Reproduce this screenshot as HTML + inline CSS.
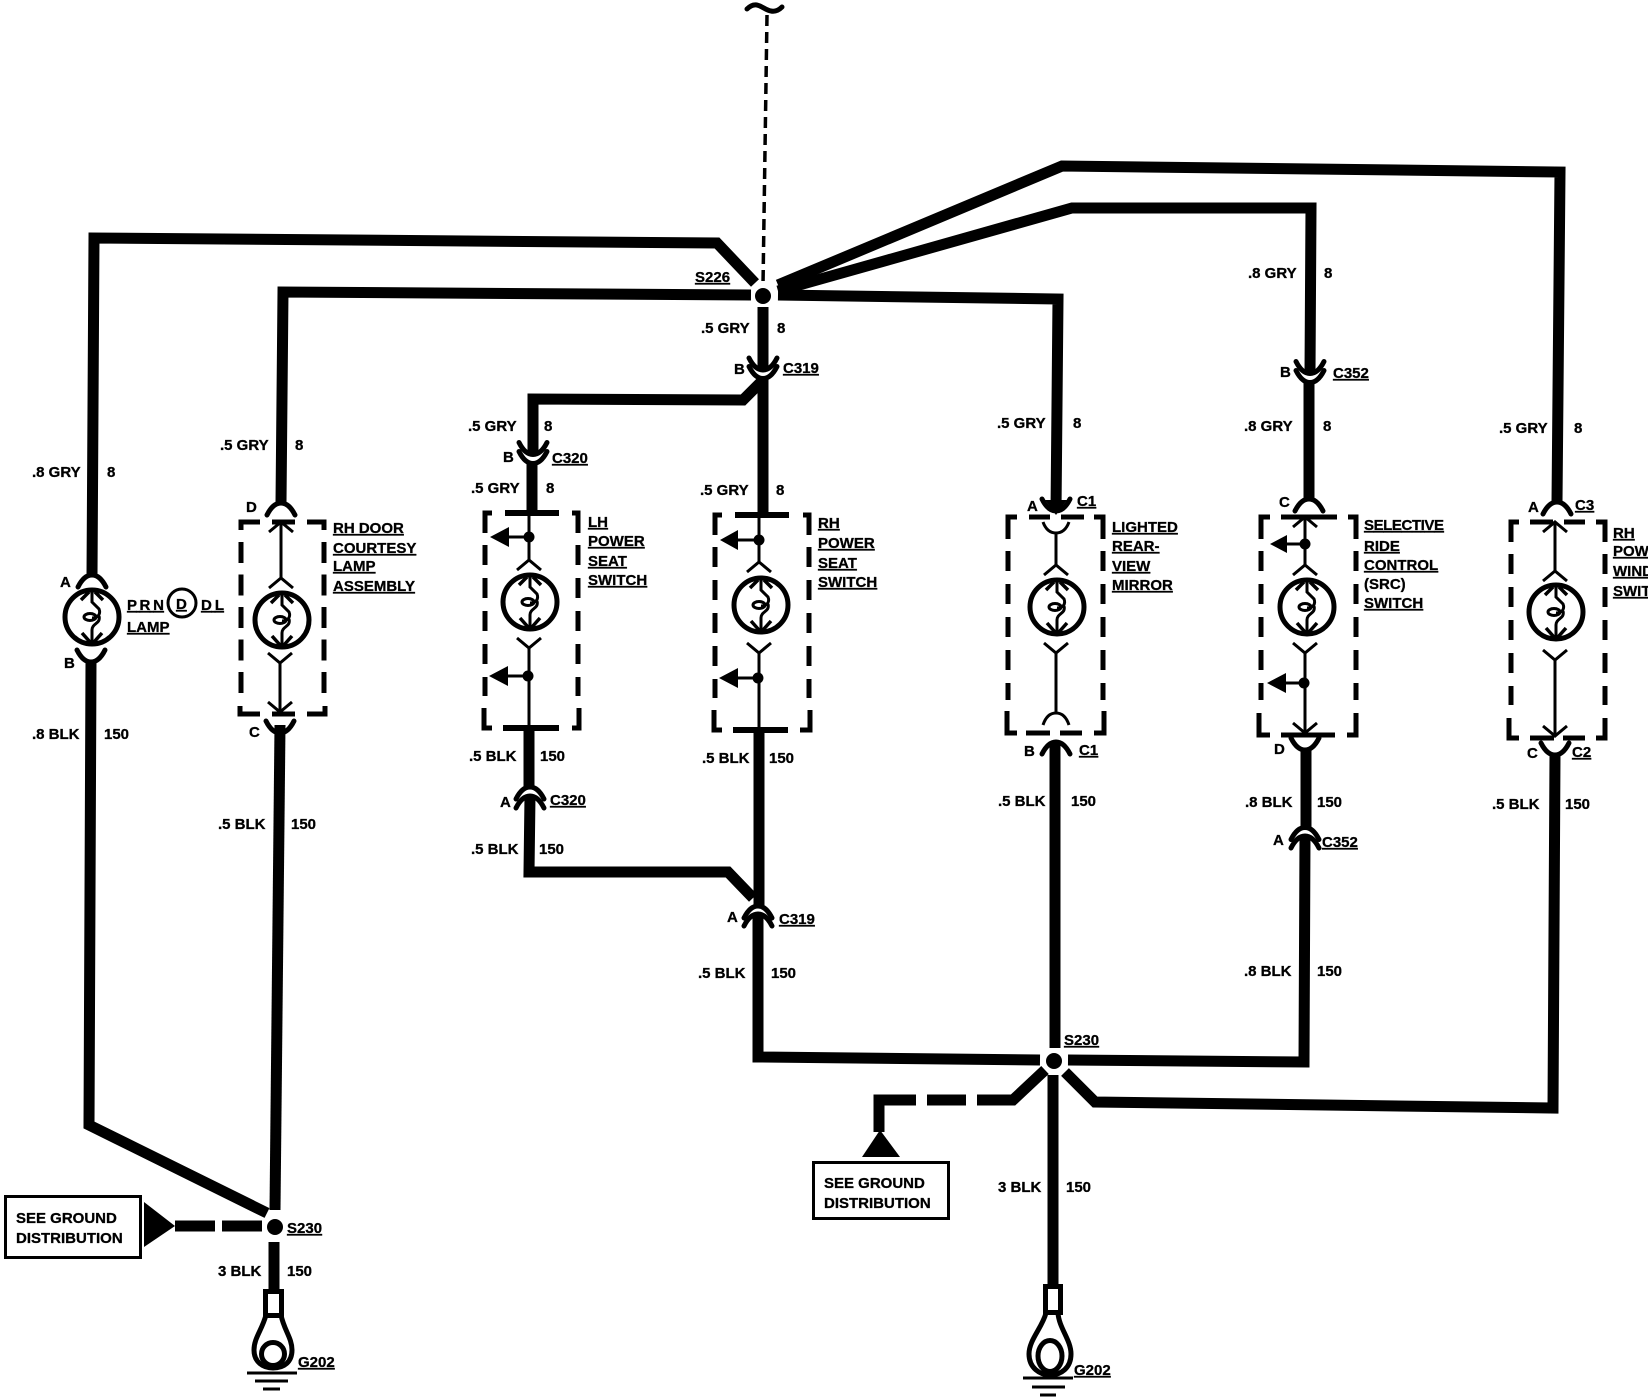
<!DOCTYPE html>
<html lang="en"><head><meta charset="utf-8"><title>Wiring diagram</title>
<style>
html,body{margin:0;padding:0;background:#fff;width:1648px;height:1398px;overflow:hidden}
svg{display:block}
text{font-family:"Liberation Sans",sans-serif;font-weight:700;font-size:15px;fill:#000;stroke:#000;stroke-width:.3}
.u{text-decoration:underline;text-underline-offset:3px}
.w{fill:none;stroke:#000;stroke-width:11;stroke-linejoin:miter}
.t{fill:none;stroke:#000;stroke-width:3;stroke-linejoin:miter}
.b{fill:none;stroke:#000;stroke-width:5}
.d{fill:none;stroke:#000;stroke-width:5;stroke-dasharray:20 13}
.e{fill:none;stroke:#000;stroke-width:5;stroke-dasharray:21 11.5}
.c{fill:none;stroke:#000;stroke-width:5;stroke-linecap:round}
</style></head><body>
<svg xmlns="http://www.w3.org/2000/svg" width="1648" height="1398" viewBox="0 0 1648 1398">
<defs>
<g id="lamp" fill="none" stroke="#000">
<circle r="27" stroke-width="5"/>
<path stroke-width="3" d="M0,-26V-15L7,-8C9,-3 6,1 0,1M-8,0a6,3.5 0 1 0 12,0a6,3.5 0 1 0 -12,0M7,-1C9,7 0,6 0,13V26"/>
<path stroke-width="3.5" d="M-11,-17L-3,-25M11,-17L3,-25M-10,16L-2,25M10,16L2,25"/>
</g>
<path id="U" class="c" d="M-14,-12Q-8,0 0,0Q8,0 14,-12"/>
<path id="N" class="c" d="M-14,12Q-8,0 0,0Q8,0 14,12"/>
<path id="up" class="t" d="M-12,10L0,0L12,10"/>
<path id="dn" class="t" d="M-12,-10L0,0L12,-10"/>
</defs>
<rect width="1648" height="1398" fill="#fff"/>

<!-- top feed -->
<path d="M747,9C757,-1 763,10 771,11C776,12 780,9 782,7" fill="none" stroke="#000" stroke-width="5" stroke-linecap="round"/>
<path d="M767,15L763,285" fill="none" stroke="#000" stroke-width="3.5" stroke-dasharray="11 6"/>

<!-- wires -->
<g class="w">
<path d="M755,283L717,243L94,238L92,576"/>
<path d="M751,295L283,292L281,503"/>
<path d="M778,295L1058,299L1056,511"/>
<path d="M778,285L1062,166L1560,172L1557,502"/>
<path d="M778,291L1072,208L1311,208L1310,373M1309,382V499"/>
<path d="M763,307V370M763,378V513"/>
<path d="M762,381L743,400L533,399V455M532,463V512"/>
<path d="M529,728V787M530,796L529,872H728L753,898"/>
<path d="M759,730V906M758,914L758,1057L1040,1060"/>
<path d="M1068,1060L1304,1062L1305,836M1306,750V827"/>
<path d="M1055,742V1048"/>
<path d="M1555,755L1553,1108L1095,1102L1065,1072"/>
<path d="M1053,1075V1285"/>
<path d="M91,662L89,1125L267,1213"/>
<path d="M280,725L275,1210"/>
<path d="M274,1242V1290"/>
<path d="M1045,1070L1013,1100H977M966,1100H927M916,1100H879V1132"/>
<path d="M175,1226H215M222,1226H262"/>
</g>

<!-- splices -->
<circle cx="763" cy="296" r="8"/>
<circle cx="1054" cy="1061" r="8"/>
<circle cx="275" cy="1227" r="8"/>

<!-- connectors -->
<use href="#U" x="763" y="370"/><use href="#U" x="763" y="378.5"/>
<use href="#U" x="533" y="454.5"/><use href="#U" x="533" y="463.5"/>
<use href="#U" x="1310" y="373.5"/><use href="#U" x="1310" y="382.5"/>
<use href="#N" x="530" y="787"/><use href="#N" x="530" y="796"/>
<use href="#N" x="758" y="906"/><use href="#N" x="758" y="914"/>
<use href="#N" x="1305" y="827.5"/><use href="#N" x="1305" y="836"/>

<!-- PRNDL lamp -->
<use href="#N" x="92" y="575"/>
<use href="#lamp" x="92" y="617"/>
<use href="#U" x="91" y="662"/>
<circle cx="182" cy="603" r="14" fill="none" stroke="#000" stroke-width="3"/>

<!-- RH door courtesy -->
<path class="b" d="M260,522H241V530M307,522H324V530M272,522H295"/>
<path class="b" d="M260,714H240V706M307,714H325V706M272,714H295"/>
<path class="e" d="M241,542V695M324,542V695"/>
<use href="#N" x="281" y="503"/>
<use href="#up" x="281" y="522"/>
<path class="t" d="M281,522V578"/>
<use href="#up" x="281" y="578"/>
<use href="#lamp" x="282" y="620"/>
<use href="#dn" x="280" y="663"/>
<path class="t" d="M280,663V712"/>
<use href="#dn" x="280" y="712"/>
<use href="#U" x="280" y="733"/>

<!-- LH power seat -->
<path class="b" d="M492,513H485V533M572,513H578V533"/>
<path class="b" d="M492,728H484V708M572,728H579V708"/>
<path class="d" d="M485,545V696M578,545V696"/>
<path d="M505,513H559M503,728H559" stroke="#000" stroke-width="6"/>
<path class="t" d="M529,515V560M529,648V728M529,537H509M528,676H508"/>
<circle cx="529" cy="537" r="5.5"/><circle cx="528" cy="676" r="5.5"/>
<path d="M490,537L509,527V547Z M489,676L508,666V686Z"/>
<use href="#up" x="529" y="560"/>
<use href="#lamp" x="530" y="602"/>
<use href="#dn" x="529" y="648"/>

<!-- RH power seat -->
<path class="b" d="M722,515H715V535M803,515H809V535"/>
<path class="b" d="M722,730H714V710M800,730H810V710"/>
<path class="d" d="M715,547V698M809,547V698"/>
<path d="M735,515H789M733,730H788" stroke="#000" stroke-width="6"/>
<path class="t" d="M759,515V562M759,653V730M759,540H737M758,678H737"/>
<circle cx="759" cy="540" r="5.5"/><circle cx="758" cy="678" r="5.5"/>
<path d="M720,540L738,530V550Z M719,678L738,668V688Z"/>
<use href="#up" x="759" y="562"/>
<use href="#lamp" x="761" y="605"/>
<use href="#dn" x="759" y="653"/>

<!-- Lighted mirror -->
<use href="#U" x="1056" y="511"/>
<path d="M1045,500L1056,515L1067,500Z"/>
<path class="b" d="M1017,517H1008V539M1094,517H1103V539M1029,517H1050M1061,517H1084"/>
<path class="b" d="M1017,733H1007V711M1094,733H1104V711M1026,733H1050M1060,733H1082"/>
<path class="d" d="M1008,551V700M1103,551V700"/>
<path d="M1043,522Q1047,533 1056,533Q1065,533 1069,522M1043,725Q1047,713 1056,713Q1065,713 1069,725" fill="none" stroke="#000" stroke-width="3"/>
<path class="t" d="M1056,533V565M1056,653V713"/>
<use href="#up" x="1056" y="565"/>
<use href="#lamp" x="1057" y="607"/>
<use href="#dn" x="1056" y="653"/>
<use href="#N" x="1056" y="742"/>

<!-- SRC -->
<use href="#N" x="1309" y="499"/>
<path class="b" d="M1270,517H1261V539M1348,517H1356V539M1281,517H1337"/>
<path class="b" d="M1270,735H1259V713M1347,735H1356V713M1281,735H1335"/>
<path class="d" d="M1261,551V700M1356,551V700"/>
<path class="t" d="M1305,517V565M1305,653V733M1305,544H1287M1304,683H1286"/>
<use href="#up" x="1305" y="517"/>
<circle cx="1305" cy="544" r="5.5"/><circle cx="1304" cy="683" r="5.5"/>
<path d="M1270,544L1287,535V553Z M1267,683L1286,673V693Z"/>
<use href="#up" x="1305" y="565"/>
<use href="#lamp" x="1307" y="607"/>
<use href="#dn" x="1305" y="653"/>
<use href="#dn" x="1305" y="733"/>
<use href="#U" x="1305" y="750"/>

<!-- RH power window -->
<use href="#N" x="1557" y="502"/>
<path class="b" d="M1519,522H1511V542M1596,522H1605V542M1530,522H1553M1564,522H1585"/>
<path class="b" d="M1519,738H1509V718M1596,738H1605V718M1530,738H1554M1563,738H1585"/>
<path class="d" d="M1511,554V705M1605,554V705"/>
<path class="t" d="M1555,522V571M1555,660V736"/>
<use href="#up" x="1555" y="522"/>
<use href="#up" x="1555" y="571"/>
<use href="#lamp" x="1556" y="612"/>
<use href="#dn" x="1555" y="660"/>
<use href="#dn" x="1555" y="736"/>
<use href="#U" x="1555" y="755"/>

<!-- ground distribution boxes -->
<path d="M144,1202L175,1226L144,1247Z"/>
<rect x="5.5" y="1196.5" width="135" height="61" fill="none" stroke="#000" stroke-width="3"/>
<path d="M880,1130L900,1157H862Z"/>
<rect x="813.5" y="1162.5" width="135" height="56" fill="none" stroke="#000" stroke-width="3"/>

<!-- ground lugs -->
<g fill="none" stroke="#000" stroke-width="5">
<rect x="265.5" y="1291.5" width="16" height="24"/>
<path d="M266,1315C262,1330 254,1338 254,1350C254,1362 263,1368 273,1368C284,1368 292,1362 292,1350C292,1338 284,1330 281,1315"/>
<circle cx="273" cy="1354" r="11.5"/>
<rect x="1045.5" y="1286.5" width="15" height="26"/>
<path d="M1046,1313C1042,1328 1029,1340 1029,1354C1029,1368 1040,1375 1050,1375C1061,1375 1071,1368 1071,1354C1071,1340 1059,1328 1058,1313"/>
<ellipse cx="1050" cy="1356" rx="12" ry="15.5"/>
</g>
<path d="M247,1373H297M255,1381H288M263,1389H280M1023,1378H1073M1032,1387H1065M1040,1395H1056" stroke="#000" stroke-width="3"/>

<!-- labels -->
<text x="695" y="282" class="u">S226</text>
<text x="701" y="333">.5 GRY</text><text x="777" y="333">8</text>
<text x="734" y="374">B</text><text x="783" y="373" class="u">C319</text>
<text x="32" y="477">.8 GRY</text><text x="107" y="477">8</text>
<text x="32" y="739">.8 BLK</text><text x="104" y="739">150</text>
<text x="60" y="587">A</text><text x="64" y="668">B</text>
<text x="127" y="610" class="u" textLength="37">P R N</text>
<text x="176" y="609" class="u">D</text>
<text x="201" y="610" class="u" textLength="23">D L</text>
<text x="127" y="632" class="u">LAMP</text>
<text x="220" y="450">.5 GRY</text><text x="295" y="450">8</text>
<text x="246" y="512">D</text><text x="249" y="737">C</text>
<text x="218" y="829">.5 BLK</text><text x="291" y="829">150</text>
<text x="333" y="533" class="u">RH DOOR</text>
<text x="333" y="553" class="u">COURTESY</text>
<text x="333" y="571" class="u">LAMP</text>
<text x="333" y="591" class="u">ASSEMBLY</text>

<text x="468" y="431">.5 GRY</text><text x="544" y="431">8</text>
<text x="503" y="462">B</text><text x="552" y="463" class="u">C320</text>
<text x="471" y="493">.5 GRY</text><text x="546" y="493">8</text>
<text x="588" y="527" class="u">LH</text>
<text x="588" y="546" class="u">POWER</text>
<text x="588" y="566" class="u">SEAT</text>
<text x="588" y="585" class="u">SWITCH</text>
<text x="469" y="761">.5 BLK</text><text x="540" y="761">150</text>
<text x="500" y="807">A</text><text x="550" y="805" class="u">C320</text>
<text x="471" y="854">.5 BLK</text><text x="539" y="854">150</text>

<text x="700" y="495">.5 GRY</text><text x="776" y="495">8</text>
<text x="818" y="528" class="u">RH</text>
<text x="818" y="548" class="u">POWER</text>
<text x="818" y="568" class="u">SEAT</text>
<text x="818" y="587" class="u">SWITCH</text>
<text x="702" y="763">.5 BLK</text><text x="769" y="763">150</text>
<text x="727" y="922">A</text><text x="779" y="924" class="u">C319</text>
<text x="698" y="978">.5 BLK</text><text x="771" y="978">150</text>

<text x="997" y="428">.5 GRY</text><text x="1073" y="428">8</text>
<text x="1027" y="511">A</text><text x="1077" y="506" class="u">C1</text>
<text x="1112" y="532" class="u">LIGHTED</text>
<text x="1112" y="551" class="u">REAR-</text>
<text x="1112" y="571" class="u">VIEW</text>
<text x="1112" y="590" class="u">MIRROR</text>
<text x="1024" y="756">B</text><text x="1079" y="755" class="u">C1</text>
<text x="998" y="806">.5 BLK</text><text x="1071" y="806">150</text>
<text x="1064" y="1045" class="u">S230</text>
<text x="998" y="1192">3 BLK</text><text x="1066" y="1192">150</text>
<text x="824" y="1188">SEE GROUND</text>
<text x="824" y="1208">DISTRIBUTION</text>
<text x="1074" y="1375" class="u">G202</text>

<text x="1248" y="278">.8 GRY</text><text x="1324" y="278">8</text>
<text x="1280" y="377">B</text><text x="1333" y="378" class="u">C352</text>
<text x="1244" y="431">.8 GRY</text><text x="1323" y="431">8</text>
<text x="1279" y="507">C</text>
<text x="1364" y="530" class="u" textLength="80">SELECTIVE</text>
<text x="1364" y="551" class="u">RIDE</text>
<text x="1364" y="570" class="u">CONTROL</text>
<text x="1364" y="589">(SRC)</text>
<text x="1364" y="608" class="u">SWITCH</text>
<text x="1274" y="754">D</text>
<text x="1245" y="807">.8 BLK</text><text x="1317" y="807">150</text>
<text x="1273" y="845">A</text><text x="1322" y="847" class="u">C352</text>
<text x="1244" y="976">.8 BLK</text><text x="1317" y="976">150</text>

<text x="1499" y="433">.5 GRY</text><text x="1574" y="433">8</text>
<text x="1528" y="512">A</text><text x="1575" y="510" class="u">C3</text>
<text x="1613" y="538" class="u">RH</text>
<text x="1613" y="556" class="u">POWER</text>
<text x="1613" y="576" class="u">WINDOW</text>
<text x="1613" y="596" class="u">SWITCH</text>
<text x="1527" y="758">C</text><text x="1572" y="757" class="u">C2</text>
<text x="1492" y="809">.5 BLK</text><text x="1565" y="809">150</text>

<text x="16" y="1223">SEE GROUND</text>
<text x="16" y="1243">DISTRIBUTION</text>
<text x="287" y="1233" class="u">S230</text>
<text x="218" y="1276">3 BLK</text><text x="287" y="1276">150</text>
<text x="298" y="1367" class="u">G202</text>
</svg>
</body></html>
